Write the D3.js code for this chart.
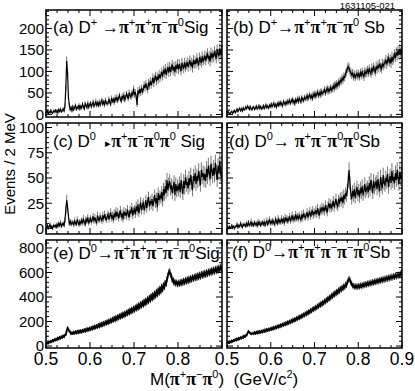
<!DOCTYPE html>
<html><head><meta charset="utf-8">
<script src="https://cdn.jsdelivr.net/npm/d3@7"></script>
<style>
body{margin:0;background:#fff;}
svg{display:block;font-family:"Liberation Sans",Arial,Helvetica,sans-serif;}
</style></head><body>
<script>
// histogram: 200 bins of 2 MeV from 0.5 to 0.9 GeV
const xMin = 0.5, xMax = 0.9, binW = 0.002;
const xTicks = [0.5, 0.6, 0.7, 0.8, 0.9];
const xTickLabels = ["0.5", "0.6", "0.7", "0.8", "0.9"];

const yTicksRow1 = [0, 50, 100, 150, 200];
const yTicksRow2 = [0, 25, 50, 75, 100];
const yTicksRow3 = [0, 200, 400, 600, 800];

// (a) D+ -> pi+ pi+ pi- pi0, signal region
const countsA = [
 3,8,2,6,4,9,5,3,8,6, 10,5,9,4,11,7,12,6,9,13, 8,19,61,124,96,40,22,10,16,9,
 18,11,16,21,12,17,14,22,13,19, 15,24,18,13,25,20,16,27,17,22, 26,18,24,29,19,23,31,20,27,21,
 30,22,28,33,24,29,21,34,27,25, 26,36,29,24,38,31,35,27,39,33, 41,32,38,44,35,31,43,37,46,34,
 39,48,42,36,51,44,40,49,46,60, 45,52,41,22,56,47,59,50,62,53, 58,69,61,72,64,57,74,66,78,68,
 75,86,72,83,90,77,88,81,94,84, 91,99,88,103,95,107,92,101,110,97, 112,99,108,116,102,111,98,114,106,118,
 104,117,109,101,120,112,106,121,110,115, 122,110,119,126,113,121,108,127,117,124, 118,131,122,114,133,126,120,135,124,129,
 137,125,134,142,128,136,123,144,131,139, 133,147,138,130,151,141,135,153,143,149
];
// (b) D+ -> pi+ pi+ pi- pi0, sideband
const countsB = [
 2,6,3,1,5,7,3,6,9,4, 8,12,7,11,14,9,13,8,15,11, 12,17,14,19,16,12,18,13,11,16,
 17,12,15,19,13,16,20,14,18,13, 15,20,14,18,22,16,19,15,21,18, 24,18,22,26,19,23,17,25,21,27,
 22,28,24,20,30,26,23,29,25,31, 27,33,26,31,35,28,32,25,34,30, 36,30,38,33,29,39,35,32,40,36,
 38,44,36,41,46,39,43,37,47,42, 49,42,47,52,44,50,45,54,48,51, 52,58,50,56,61,53,59,55,63,57,
 60,66,59,70,64,72,67,75,71,79, 76,84,80,88,86,95,99,106,111,108, 101,97,92,96,88,93,86,91,95,89,
 94,88,97,91,99,93,87,100,95,98, 103,97,106,100,95,108,101,110,104,99, 112,105,115,108,118,110,106,119,113,117,
 120,127,117,125,131,122,128,119,134,126, 131,140,134,144,137,148,139,152,143,150
];
// (c) D0 -> pi+ pi- pi0 pi0, signal region
const countsC = [
 1,3,0,2,4,1,2,0,3,2, 3,1,4,2,5,3,6,2,4,5, 3,8,18,28,21,12,5,7,4,6,
 6,3,8,5,4,9,6,3,7,5, 8,5,10,6,4,9,7,11,5,8, 10,6,9,12,7,11,8,5,13,9,
 8,12,10,7,13,9,14,11,8,12, 14,9,12,16,10,13,8,15,11,17, 12,16,10,14,18,11,15,9,17,13,
 16,12,19,14,11,18,15,21,13,17, 19,14,22,17,24,15,20,26,18,23, 25,18,22,28,20,26,31,22,27,24,
 29,22,27,33,25,30,21,35,28,32, 30,36,27,39,33,42,35,48,38,44, 47,39,43,35,41,46,33,44,37,42,
 38,45,36,48,41,34,47,40,51,43, 46,40,50,43,53,45,38,52,47,55, 44,52,47,57,49,43,58,51,55,48,
 54,47,59,51,62,55,49,64,57,52, 60,53,65,56,48,62,55,67,54,51
];
// (d) D0 -> pi+ pi- pi0 pi0, sideband
const countsD = [
 1,0,2,0,1,3,1,2,0,2, 2,4,1,3,2,5,3,1,4,3, 4,2,5,3,6,3,4,7,3,5,
 3,6,4,5,2,7,4,6,3,5, 6,4,7,3,5,8,4,6,9,5, 7,5,8,6,4,9,7,5,10,6,
 8,6,10,7,9,5,11,8,10,7, 9,12,7,10,13,8,11,9,14,10, 12,9,13,11,8,14,10,15,12,11,
 13,16,11,14,17,12,15,18,13,16, 15,18,14,20,16,13,19,17,21,18, 20,17,23,19,16,22,25,20,24,21,
 23,27,21,25,29,24,22,28,26,30, 27,31,25,33,29,35,32,38,47,58, 45,34,29,37,32,39,30,36,41,33,
 38,31,40,35,42,33,37,44,36,39, 41,36,45,38,48,42,35,47,40,44, 46,39,49,42,37,51,44,40,53,45,
 43,50,46,54,41,48,52,45,57,47, 51,45,55,48,58,50,44,56,49,53
];
// (e) D0 -> pi+ pi+ pi- pi- pi0, signal region
const countsE = [
 15,27,22,35,29,41,34,48,40,53, 46,59,51,66,57,72,63,77,69,83, 75,90,92,124,148,139,119,116,100,109,
 101,114,104,117,106,120,108,123,112,125, 114,129,119,133,121,137,126,141,130,146, 134,150,139,156,144,161,149,166,154,172,
 159,178,165,184,170,190,176,196,182,202, 187,208,194,215,200,222,206,229,213,235, 219,242,226,249,233,256,239,263,246,270,
 253,278,261,286,268,294,276,302,284,310, 291,318,300,327,308,336,317,345,326,354, 334,364,344,374,354,385,364,396,375,407,
 386,418,397,430,409,443,421,456,434,468, 447,483,461,498,480,517,505,546,573,603, 610,580,574,536,541,514,526,506,520,501,
 518,504,524,508,529,513,535,518,540,523, 546,528,551,534,557,540,562,546,567,551, 573,555,578,560,583,565,588,571,593,576,
 598,580,603,586,608,591,613,596,619,601, 624,606,629,611,634,616,639,621,645,627
];
// (f) D0 -> pi+ pi+ pi- pi- pi0, sideband
const countsF = [
 20,31,25,37,30,43,36,48,42,54, 47,59,52,65,57,70,63,76,68,82, 75,88,87,106,120,112,106,98,101,106,
 99,111,102,114,105,117,108,120,111,123, 114,127,118,131,122,135,126,139,130,143, 134,148,138,152,143,157,148,162,153,167,
 158,173,163,178,169,184,174,190,180,196, 186,202,192,208,198,215,205,222,212,229, 219,236,226,243,233,251,241,259,249,267,
 257,275,265,284,274,293,283,302,292,311, 301,320,310,329,319,339,329,349,338,359, 348,369,358,380,369,391,380,402,391,414,
 402,425,413,436,424,447,435,458,446,469, 457,479,468,490,480,503,494,521,536,548, 541,517,509,492,493,481,491,479,490,480,
 492,482,496,486,500,490,504,494,508,498, 512,502,516,506,520,510,524,514,528,518, 532,522,536,526,540,530,544,534,548,538,
 552,542,556,546,560,550,564,554,568,558, 572,562,576,566,580,570,584,574,592,597
];

// panel label pieces: [text, style] n normal, s superscript, p pi, a small arrow head
const labelA = [["(a) D","n"],["+","s"],[" \u2192","n"],["\u03c0","p"],["+","s"],["\u03c0","p"],["+","s"],["\u03c0","p"],["\u2212","s"],["\u03c0","p"],["0","s"],["Sig","n"]];
const labelB = [["(b) D","n"],["+","s"],["\u2192","n"],["\u03c0","p"],["+","s"],["\u03c0","p"],["+","s"],["\u03c0","p"],["\u2212","s"],["\u03c0","p"],["0","s"],[" Sb","n"]];
const labelC = [["(c) D","n"],["0","s"],["   \u25b8","a"],["\u03c0","p"],["+","s"],["\u03c0","p"],["\u2212","s"],["\u03c0","p"],["0","s"],["\u03c0","p"],["0","s"],[" Sig","n"]];
const labelD = [["(d) D","n"],["0","s"],["\u2192 ","n"],["\u03c0","p"],["+","s"],["\u03c0","p"],["\u2212","s"],["\u03c0","p"],["0","s"],["\u03c0","p"],["0","s"],["Sb","n"]];
const labelE = [["(e) D","n"],["0","s"],["\u2192","n"],["\u03c0","p"],["+","s"],["\u03c0","p"],["+","s"],["\u03c0","p"],["\u2212","s"],["\u03c0","p"],["\u2212","s"],["\u03c0","p"],["0","s"],["Sig","n"]];
const labelF = [["(f) D","n"],["0","s"],["\u2192","n"],["\u03c0","p"],["+","s"],["\u03c0","p"],["+","s"],["\u03c0","p"],["\u2212","s"],["\u03c0","p"],["\u2212","s"],["\u03c0","p"],["0","s"],["Sb","n"]];
const xTitle = [["M(","n"],["\u03c0","p"],["+","s"],["\u03c0","p"],["\u2212","s"],["\u03c0","p"],["0","s"],[")  (GeV/c","n"],["2","s"],[")","n"]];

const W = 415, H = 391;
const cols = [[46, 222], [227, 402]];
const rows = [[10, 117], [123, 234], [240, 348]];
const yDomains = [[-6, 243], [-5.5, 104.5], [-16, 865]];
const yTicksByRow = [yTicksRow1, yTicksRow2, yTicksRow3];

const panels = [
  {c: countsA, lab: labelA, row: 0, col: 0, lx: 53, ly: 33},
  {c: countsB, lab: labelB, row: 0, col: 1, lx: 233, ly: 33},
  {c: countsC, lab: labelC, row: 1, col: 0, lx: 53, ly: 147},
  {c: countsD, lab: labelD, row: 1, col: 1, lx: 229, ly: 147},
  {c: countsE, lab: labelE, row: 2, col: 0, lx: 53, ly: 259},
  {c: countsF, lab: labelF, row: 2, col: 1, lx: 232, ly: 258}
];

const svg = d3.select("body").append("svg").attr("width", W).attr("height", H);

function richText(t, pieces) {
  let up = false;
  pieces.forEach(([s, st]) => {
    const sp = t.append("tspan").text(s).attr("xml:space", "preserve");
    if (st === "s") {
      sp.attr("font-size", 11).attr("dy", up ? 0 : -7);
      up = true;
      return;
    }
    if (up) sp.attr("dy", 7);
    up = false;
    if (st === "p") sp.attr("font-family", "'Liberation Serif','Times New Roman',serif").attr("font-weight", "bold").attr("font-size", 18);
    if (st === "a") sp.attr("font-size", 11);
  });
}

panels.forEach((p, k) => {
  const [x0, x1] = cols[p.col], [y0, y1] = rows[p.row];
  const x = d3.scaleLinear().domain([xMin, xMax]).range([x0, x1]);
  const y = d3.scaleLinear().domain(yDomains[p.row]).range([y1, y0]);
  const g = svg.append("g");

  svg.append("clipPath").attr("id", "clip" + k)
    .append("rect").attr("x", x0).attr("y", y0).attr("width", x1 - x0).attr("height", y1 - y0);

  const bins = p.c.map((v, i) => ({xc: xMin + (i + 0.5) * binW, v: v, e: Math.sqrt(Math.max(v, 1))}));
  const data = g.append("g").attr("clip-path", "url(#clip" + k + ")");

  // error bars
  data.selectAll("line").data(bins).enter().append("line")
    .attr("x1", d => x(d.xc)).attr("x2", d => x(d.xc))
    .attr("y1", d => y(d.v - d.e)).attr("y2", d => y(d.v + d.e))
    .attr("stroke", p.row === 2 ? "#222" : "#6a6a6a").attr("stroke-width", 0.9);
  // points joined
  data.append("path").datum(bins)
    .attr("d", d3.line().x(d => x(d.xc)).y(d => y(d.v)))
    .attr("fill", "none").attr("stroke", "#000").attr("stroke-width", p.row === 2 ? 1.8 : 1.2);

  // ticks, all four sides pointing in
  const ticks = g.append("g").attr("stroke", "#000").attr("stroke-width", 1);
  d3.range(xMin, xMax + 1e-9, 0.025).forEach(t => {
    const len = xTicks.some(m => Math.abs(m - t) < 1e-9) ? 6 : 3;
    ticks.append("line").attr("x1", x(t)).attr("x2", x(t)).attr("y1", y1).attr("y2", y1 - len);
    ticks.append("line").attr("x1", x(t)).attr("x2", x(t)).attr("y1", y0).attr("y2", y0 + len);
  });
  const yt = yTicksByRow[p.row];
  const yStep = (yt[1] - yt[0]) / 5;
  d3.range(0, yDomains[p.row][1], yStep).forEach(t => {
    const len = yt.some(m => Math.abs(m - t) < 1e-6) ? 6 : 3;
    ticks.append("line").attr("x1", x0).attr("x2", x0 + len).attr("y1", y(t)).attr("y2", y(t));
    ticks.append("line").attr("x1", x1).attr("x2", x1 - len).attr("y1", y(t)).attr("y2", y(t));
  });

  g.append("rect").attr("x", x0).attr("y", y0).attr("width", x1 - x0).attr("height", y1 - y0)
    .attr("fill", "none").attr("stroke", "#000").attr("stroke-width", 1.5);

  if (p.col === 0) {
    g.selectAll("text.yl").data(yt).enter().append("text")
      .attr("x", x0 - 2).attr("y", d => y(d)).attr("dy", "0.36em")
      .attr("text-anchor", "end").attr("font-size", 15).text(d => d);
  }
  if (p.row === 2) {
    // left column's 0.9 is covered by the right column's 0.5
    const shown = p.col === 0 ? xTicks.slice(0, 4) : xTicks;
    g.selectAll("text.xl").data(shown).enter().append("text")
      .attr("x", d => x(d)).attr("y", 365)
      .attr("text-anchor", "middle").attr("font-size", 17.5)
      .text((d, i) => xTickLabels[i]);
  }

  richText(g.append("text").attr("x", p.lx).attr("y", p.ly).attr("font-size", 17), p.lab);
});

// axis titles
svg.append("text").attr("transform", "translate(15,164) rotate(-90)")
  .attr("text-anchor", "middle").attr("font-size", 15).text("Events / 2 MeV");

richText(svg.append("text").attr("x", 150).attr("y", 385).attr("font-size", 17), xTitle);

svg.append("text").attr("x", 395).attr("y", 8.5).attr("text-anchor", "end")
  .attr("font-size", 9.5).text("1631105-021");
</script>
</body></html>
